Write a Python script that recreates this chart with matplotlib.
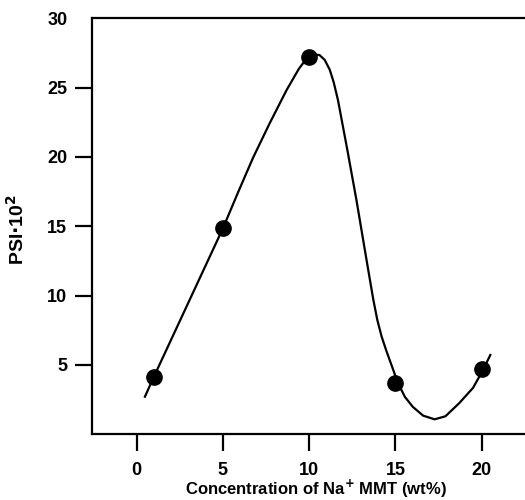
import numpy as np
import matplotlib
matplotlib.use('Agg')
import matplotlib.pyplot as plt

plt.rcParams['font.family'] = ['Liberation Sans', 'DejaVu Sans']

# measured points
conc = [1, 5, 10, 15, 20]
psi = [4.15, 14.85, 27.2, 3.68, 4.69]

# fitted curve
curve_x = [0.48, 1.0, 3.0, 5.0, 5.88, 6.75, 7.72, 8.69, 9.4, 9.7, 10.0, 10.3, 10.6,
           10.9, 11.19, 11.42, 11.67, 12.2, 12.74, 13.2, 13.5, 13.72, 13.95,
           14.2, 14.48, 14.8, 15.15, 15.55, 16.0, 16.6, 17.27, 17.9, 18.7,
           19.5, 20.1, 20.5]
curve_y = [2.71, 4.15, 9.5, 14.85, 17.45, 19.95, 22.45, 24.82, 26.35, 26.85, 27.2, 27.38, 27.35,
           27.0, 26.3, 25.4, 24.1, 20.6, 16.9, 13.5, 11.3, 9.7, 8.25,
           7.05, 6.0, 4.9, 3.68, 2.7, 1.99, 1.35, 1.08, 1.3, 2.25,
           3.35, 4.69, 5.72]

xticks = [0, 5, 10, 15, 20]
yticks = [5, 10, 15, 20, 25, 30]

fig = plt.figure(figsize=(5.25, 5.0), dpi=100)
ax = fig.add_axes([0.1758, 0.1314, 0.8337, 0.832])

ax.plot(curve_x, curve_y, color='black', lw=1.6, solid_joinstyle='round', zorder=2)
ax.plot(conc, psi, 'o', color='black', markersize=11, zorder=3)

ax.set_xlim(-2.57, 22.8)
ax.set_ylim(0, 30)
ax.set_xticks(xticks)
ax.set_yticks(yticks)

for s in ['left', 'bottom', 'top']:
    ax.spines[s].set_linewidth(1.6)
ax.spines['right'].set_visible(False)

ax.tick_params(axis='both', direction='out', length=12, width=1.6,
               labelsize=13)
ax.tick_params(axis='x', pad=8)
ax.tick_params(axis='y', pad=6)
ax.yaxis.get_major_ticks()[-1].tick1line.set_visible(False)
for lab in ax.get_xticklabels() + ax.get_yticklabels():
    lab.set_fontweight('bold')

ax.set_xlabel('Concentration of Na$^{\\mathbf{+}}$ MMT (wt%)', fontsize=12,
              fontweight='bold')
ax.xaxis.set_label_coords(0.51, -0.104)
ax.set_ylabel('PSI$\\mathbf{\\cdot}$10$^{\\mathbf{2}}$', fontsize=14,
              fontweight='bold')
ax.yaxis.set_label_coords(-0.147, 0.493)

plt.savefig('out.png', dpi=100)
